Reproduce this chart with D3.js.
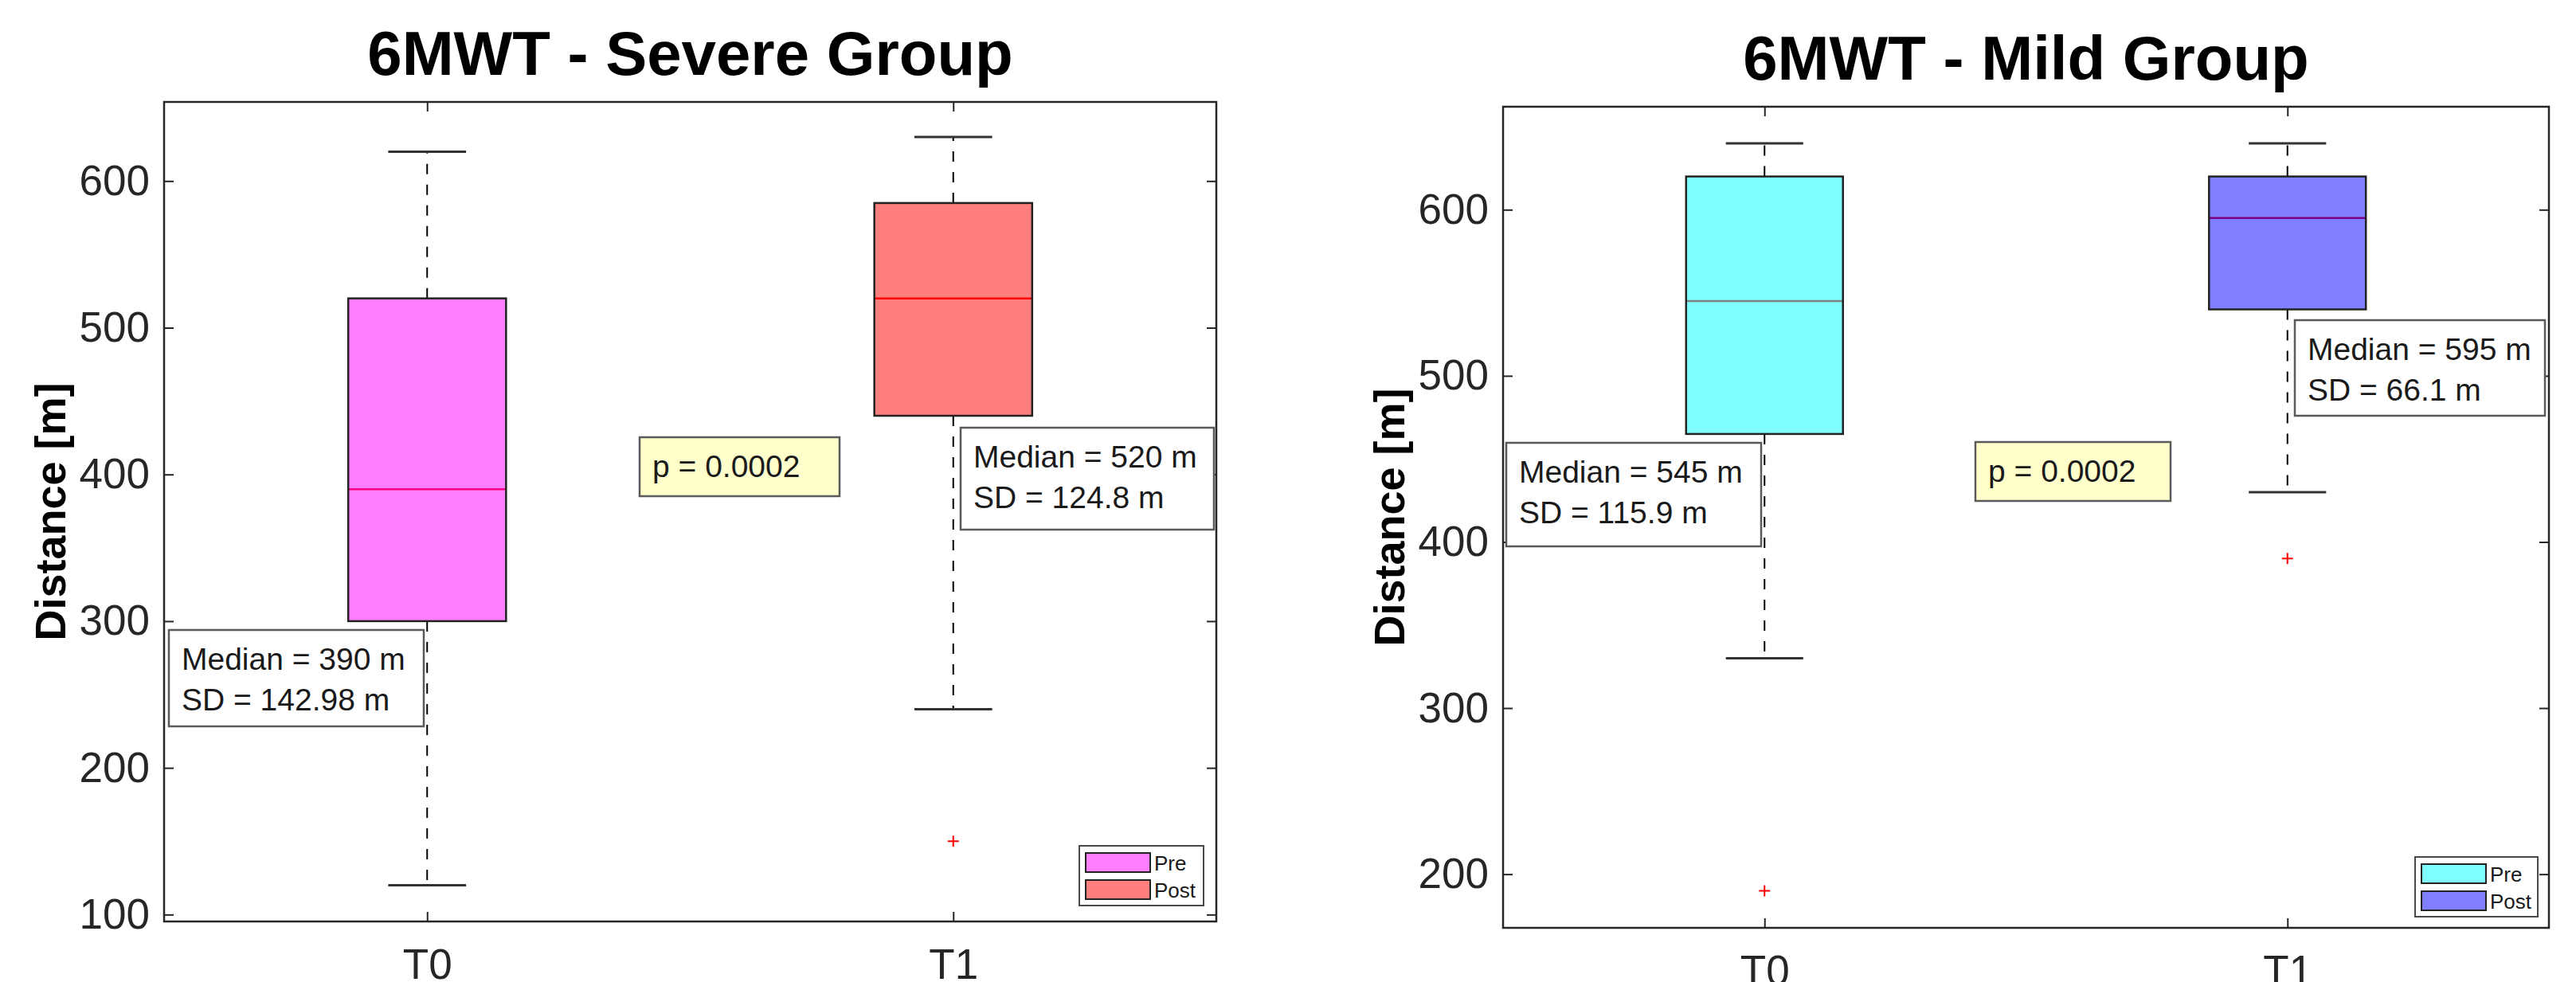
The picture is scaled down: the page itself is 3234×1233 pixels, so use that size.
<!DOCTYPE html>
<html>
<head>
<meta charset="utf-8">
<script src="https://cdn.jsdelivr.net/npm/d3@7"></script>
<style>
  body { margin: 0; background: #fff; }
  text { font-family: "Liberation Sans", Arial, Helvetica, sans-serif; }
</style>
</head>
<body>
<div id="chart"></div>
<script>
// Datos
const categories = ["T0", "T1"];
const legendLabels = ["Pre", "Post"];
const titles = ["6MWT - Severe Group", "6MWT - Mild Group"];

// [bigote inferior, Q1, mediana, Q3, bigote superior]
const severeStats = [[120, 300, 390, 520, 620], [240, 440, 520, 585, 630]];
const severeOutliers = [[], [150]];
const mildStats = [[330, 465, 545, 620, 640], [430, 540, 595, 620, 640]];
const mildOutliers = [[190], [390]];

const severeTicks = [100, 200, 300, 400, 500, 600];
const mildTicks = [200, 300, 400, 500, 600];

const severeNotes = [["Median = 390 m", "SD = 142.98 m"], ["Median = 520 m", "SD = 124.8 m"]];
const mildNotes = [["Median = 545 m", "SD = 115.9 m"], ["Median = 595 m", "SD = 66.1 m"]];
const pValues = ["p = 0.0002", "p = 0.0002"];

const severeColors = ["#ff00ff", "#ff0000"];
const mildColors = ["#00ffff", "#0000ff"];

const panels = [
    {
        title: titles[0], stats: severeStats, outliers: severeOutliers, ticks: severeTicks,
        notes: severeNotes, p: pValues[0], colors: severeColors,
        frame: { x0: 206, x1: 1527, y0: 128, y1: 1157 }, yDomain: [95.3, 653.9],
        // cajas de texto relativas al marco: [x, y, ancho, alto]
        noteBoxes: [[6, 663, 320, 121], [1000, 409, 318, 128]],
        pBox: [597, 421, 251, 74],
        legendBox: [1149, 934, 156, 75]
    },
    {
        title: titles[1], stats: mildStats, outliers: mildOutliers, ticks: mildTicks,
        notes: mildNotes, p: pValues[1], colors: mildColors,
        frame: { x0: 1887, x1: 3200, y0: 134, y1: 1165 }, yDomain: [167.7, 662],
        noteBoxes: [[4, 422, 320, 130], [994, 268, 314, 120]],
        pBox: [593, 421, 245, 74],
        legendBox: [1145, 942, 154, 75]
    }
];

const svg = d3.select("#chart")
    .append("svg")
    .attr("width", 3234)
    .attr("height", 1233)
    .style("background", "#fff");

panels.forEach(p => drawPanel(p));

function drawPanel(p) {
    const f = p.frame;
    const g = svg.append("g");

    const x = d3.scaleLinear().domain([0.5, 2.5]).range([f.x0, f.x1]);
    const y = d3.scaleLinear().domain(p.yDomain).range([f.y1, f.y0]);
    const unit = x(1) - x(0);
    const boxW = 0.3 * unit, capW = 0.148 * unit;

    // Ejes con marcas hacia dentro
    const axL = g.append("g")
        .attr("transform", `translate(${f.x0},0)`)
        .call(d3.axisLeft(y).tickValues(p.ticks).tickSize(-12).tickSizeOuter(0).tickPadding(18));
    const axR = g.append("g")
        .attr("transform", `translate(${f.x1},0)`)
        .call(d3.axisRight(y).tickValues(p.ticks).tickSize(-12).tickSizeOuter(0).tickFormat(""));
    const axB = g.append("g")
        .attr("transform", `translate(0,${f.y1})`)
        .call(d3.axisBottom(x).tickValues([1, 2]).tickFormat(d => categories[d - 1])
            .tickSize(-12).tickSizeOuter(0).tickPadding(34));
    const axT = g.append("g")
        .attr("transform", `translate(0,${f.y0})`)
        .call(d3.axisTop(x).tickValues([1, 2]).tickSize(-12).tickSizeOuter(0).tickFormat(""));

    [axL, axR, axB, axT].forEach(a => {
        a.select(".domain").remove();
        a.selectAll("line").attr("stroke", "#262626").attr("stroke-width", 2);
        a.selectAll("text")
            .attr("font-size", 53)
            .attr("fill", "#262626")
            .style("font-family", "'Liberation Sans', Arial, sans-serif");
    });

    // Cajas
    p.stats.forEach((s, i) => {
        const cx = x(i + 1);
        const [lo, q1, med, q3, hi] = s;
        const bg = g.append("g");

        // bigotes discontinuos
        bg.append("line")
            .attr("x1", cx).attr("x2", cx).attr("y1", y(q3)).attr("y2", y(hi))
            .attr("stroke", "#000").attr("stroke-width", 2).attr("stroke-dasharray", "13,13");
        bg.append("line")
            .attr("x1", cx).attr("x2", cx).attr("y1", y(q1)).attr("y2", y(lo))
            .attr("stroke", "#000").attr("stroke-width", 2).attr("stroke-dasharray", "13,13");
        [lo, hi].forEach(v => {
            bg.append("line")
                .attr("x1", cx - capW / 2).attr("x2", cx + capW / 2)
                .attr("y1", y(v)).attr("y2", y(v))
                .attr("stroke", "#333").attr("stroke-width", 3);
        });

        // mediana roja debajo del parche semitransparente
        bg.append("line")
            .attr("x1", cx - boxW / 2).attr("x2", cx + boxW / 2)
            .attr("y1", y(med)).attr("y2", y(med))
            .attr("stroke", "#ff0000").attr("stroke-width", 2.5);

        bg.append("rect")
            .attr("x", cx - boxW / 2)
            .attr("y", y(q3))
            .attr("width", boxW)
            .attr("height", y(q1) - y(q3))
            .attr("fill", p.colors[i])
            .attr("fill-opacity", 0.5)
            .attr("stroke", "#222")
            .attr("stroke-width", 2.5);

        // valores atipicos
        p.outliers[i].forEach(v => {
            bg.append("path")
                .attr("d", `M${cx - 7},${y(v)}H${cx + 7}M${cx},${y(v) - 7}V${y(v) + 7}`)
                .attr("stroke", "#ff0000").attr("stroke-width", 2);
        });
    });

    // Marco
    g.append("rect")
        .attr("x", f.x0).attr("y", f.y0)
        .attr("width", f.x1 - f.x0).attr("height", f.y1 - f.y0)
        .attr("fill", "none").attr("stroke", "#262626").attr("stroke-width", 2.5);

    // Titulo
    g.append("text")
        .attr("x", (f.x0 + f.x1) / 2)
        .attr("y", f.y0 - 34)
        .attr("text-anchor", "middle")
        .attr("font-size", 78)
        .attr("font-weight", "bold")
        .attr("fill", "#000")
        .text(p.title);

    // Etiqueta eje Y
    const cy = (f.y0 + f.y1) / 2;
    g.append("text")
        .attr("transform", `translate(${f.x0 - 124},${cy}) rotate(-90)`)
        .attr("text-anchor", "middle")
        .attr("font-size", 54)
        .attr("font-weight", "bold")
        .attr("fill", "#000")
        .text("Distance [m]");

    // Cuadros de texto
    function textBox(b, lines, fill) {
        const bx = f.x0 + b[0], by = f.y0 + b[1];
        g.append("rect")
            .attr("x", bx).attr("y", by).attr("width", b[2]).attr("height", b[3])
            .attr("fill", fill).attr("stroke", "#5a5a5a").attr("stroke-width", 2.5);
        lines.forEach((t, k) => {
            g.append("text")
                .attr("x", bx + 16)
                .attr("y", by + 50 + k * 51)
                .attr("font-size", 39)
                .attr("fill", "#1a1a1a")
                .text(t);
        });
    }
    p.noteBoxes.forEach((b, i) => textBox(b, p.notes[i], "#fff"));
    textBox(p.pBox, [p.p], "#ffffcc");

    // Leyenda
    const lb = p.legendBox;
    const lx = f.x0 + lb[0], ly = f.y0 + lb[1];
    g.append("rect")
        .attr("x", lx).attr("y", ly).attr("width", lb[2]).attr("height", lb[3])
        .attr("fill", "#fff").attr("stroke", "#4a4a4a").attr("stroke-width", 2);
    legendLabels.forEach((lab, k) => {
        g.append("rect")
            .attr("x", lx + 8).attr("y", ly + 9 + k * 34)
            .attr("width", 81).attr("height", 24)
            .attr("fill", p.colors[k]).attr("fill-opacity", 0.5)
            .attr("stroke", "#222").attr("stroke-width", 2);
        g.append("text")
            .attr("x", lx + 94)
            .attr("y", ly + 31 + k * 34)
            .attr("font-size", 26)
            .attr("fill", "#1a1a1a")
            .text(lab);
    });
}
</script>
</body>
</html>
